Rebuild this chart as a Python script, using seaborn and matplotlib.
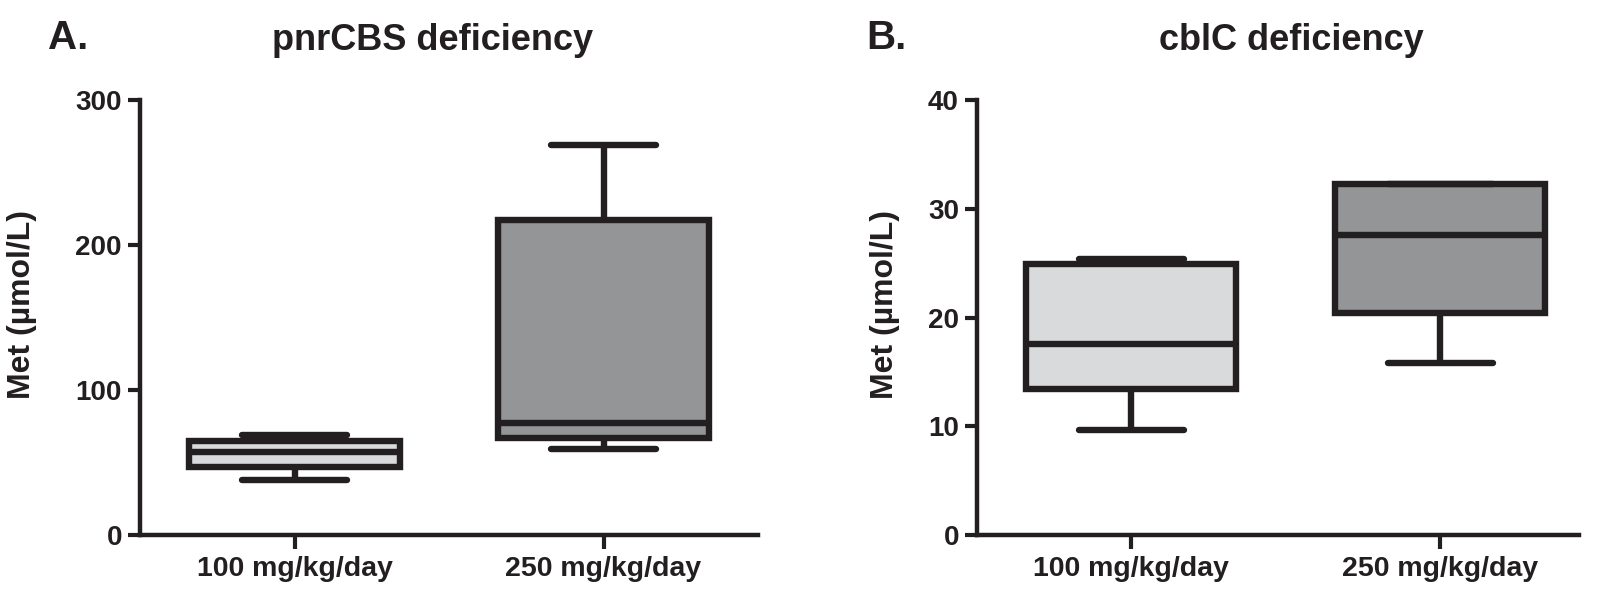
import numpy as np
import pandas as pd
import matplotlib
matplotlib.use("Agg")
import matplotlib.pyplot as plt
import seaborn as sns

# dose groups and five-number summaries (min, Q1, median, Q3, max)
doses = ["100 mg/kg/day", "250 mg/kg/day"]
pnrcbs_100 = [37.9, 47.1, 57.0, 65.0, 69.0]
pnrcbs_250 = [59.3, 67.1, 77.4, 217.2, 269.0]
cblc_100 = [9.7, 13.4, 17.6, 24.9, 25.4]
cblc_250 = [15.8, 20.4, 27.6, 32.3, 32.3]

titles = ["pnrCBS deficiency", "cblC deficiency"]
panel_tags = ["A.", "B."]
y_ticks_a = [0, 100, 200, 300]
y_ticks_b = [0, 10, 20, 30, 40]

ink = "#231f20"
fills = ["#d9dadb", "#939598"]

sns.set_style("ticks")
plt.rcParams['font.family'] = ['Liberation Sans', 'DejaVu Sans']
plt.rcParams['font.weight'] = 'bold'


def long_df(a, b):
    return pd.DataFrame({
        "dose": [doses[0]] * len(a) + [doses[1]] * len(b),
        "met": a + b,
    })


df_a = long_df(pnrcbs_100, pnrcbs_250)
df_b = long_df(cblc_100, cblc_250)

fig = plt.figure(figsize=(15.97, 5.9), dpi=100)
ax_a = fig.add_axes([140 / 1597, 55 / 590, 618 / 1597, 435 / 590])
ax_b = fig.add_axes([977 / 1597, 55 / 590, 602 / 1597, 435 / 590])


def draw(ax, df, ticks, xmax, label_x):
    sns.boxplot(data=df, x="dose", y="met", hue="dose", palette=fills,
                whis=(0, 100), width=0.68, linewidth=4.6, linecolor=ink,
                legend=False, ax=ax)
    ax.set_xlim(-0.5, xmax)
    ax.set_ylim(ticks[0], ticks[-1])
    ax.set_yticks(ticks)
    ax.set_xlabel("")
    ax.set_ylabel("Met (\u00b5mol/L)", fontsize=23, fontweight="bold", color=ink)
    ax.yaxis.set_label_coords(label_x, 0.53)
    sns.despine(ax=ax)
    for s in ["left", "bottom"]:
        ax.spines[s].set_linewidth(3.2)
        ax.spines[s].set_color(ink)
    ax.tick_params(axis="y", length=9, width=3, color=ink, pad=4,
                   labelsize=20, labelcolor=ink)
    ax.tick_params(axis="x", length=10, width=3, color=ink, pad=5,
                   labelsize=20.5, labelcolor=ink)
    for lab in ax.get_xticklabels() + ax.get_yticklabels():
        lab.set_fontweight("bold")


draw(ax_a, df_a, y_ticks_a, 1.5, -0.167)
draw(ax_b, df_b, y_ticks_b, 1.45, -0.128)

fig.text(433 / 1597, 1 - 40 / 590, titles[0], ha="center", va="center",
         fontsize=26, fontweight="bold", color=ink)
fig.text(1291 / 1597, 1 - 40 / 590, titles[1], ha="center", va="center",
         fontsize=26, fontweight="bold", color=ink)
fig.text(48 / 1597, 1 - 38 / 590, panel_tags[0], ha="left", va="center",
         fontsize=29, fontweight="bold", color=ink)
fig.text(866 / 1597, 1 - 38 / 590, panel_tags[1], ha="left", va="center",
         fontsize=29, fontweight="bold", color=ink)

fig.savefig("out.png", dpi=100)
